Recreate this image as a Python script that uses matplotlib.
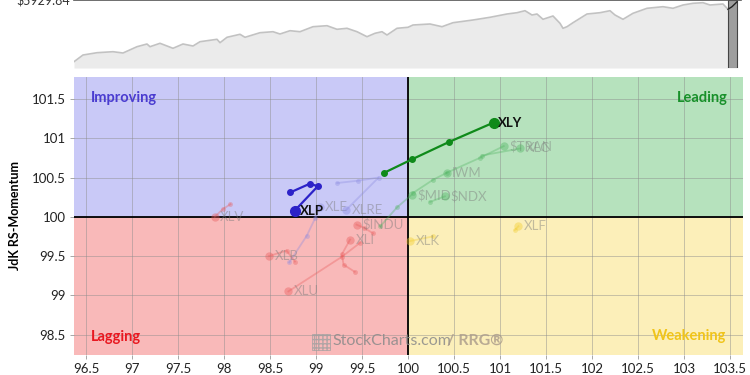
import numpy as np
import matplotlib
matplotlib.use("Agg")
import matplotlib.pyplot as plt
from matplotlib.patches import Rectangle

plt.rcParams['font.family'] = ['Lato', 'DejaVu Sans']

# benchmark strip on top ($SPX), bar index vs close
spx_bar = [0, 9, 23, 39, 49, 63, 73, 76, 86, 99, 109, 119, 126, 143, 146, 153,
           166, 171, 186, 199, 206, 216, 226, 239, 253, 263, 273, 283, 293, 301,
           308, 313, 323, 334, 339, 356, 368, 379, 399, 416, 433, 443, 451, 458,
           463, 469, 479, 486, 489, 493, 499, 513, 526, 536, 541, 549, 559, 573,
           589, 599, 609, 619, 629, 636, 649, 654, 658, 663]
spx_close = [4264, 4445, 4507, 4534, 4499, 4669, 4742, 4669, 4761, 4626, 4742,
             4688, 4804, 4869, 4777, 4923, 5004, 4923, 5047, 5074, 5012, 5101,
             5074, 5209, 5236, 5139, 5166, 5074, 4939, 5031, 5074, 4985, 5166,
             5193, 5255, 5282, 5209, 5317, 5390, 5463, 5552, 5587, 5641, 5525,
             5552, 5409, 5498, 5301, 5166, 5209, 5317, 5552, 5587, 5641, 5525,
             5409, 5571, 5706, 5749, 5706, 5795, 5841, 5857, 5795, 5822, 5679,
             5749, 5880]
spx_last = "$5929.84"

# RRG tails: JdK RS-Ratio (x) and RS-Momentum (y), oldest -> head
xlp_rs = [98.72, 98.93, 99.02, 98.77]
xlp_mom = [100.31, 100.42, 100.39, 100.08]
xly_rs = [99.74, 100.04, 100.44, 100.93]
xly_mom = [100.56, 100.73, 100.95, 101.20]

xlv_rs = [98.07, 97.99, 97.90]
xlv_mom = [100.16, 100.10, 100.00]
xle_rs = [98.71, 98.90, 98.99, 99.04]
xle_mom = [99.42, 99.76, 99.98, 100.12]
xlre_rs = [99.23, 99.46, 99.68, 99.33]
xlre_mom = [100.43, 100.46, 100.50, 100.09]
xlb_rs = [98.77, 98.68, 98.49]
xlb_mom = [99.43, 99.57, 99.50]
xlu_rs = [99.48, 99.28, 98.70]
xlu_mom = [99.67, 99.49, 99.05]
xli_rs = [99.42, 99.30, 99.28, 99.37]
xli_mom = [99.30, 99.39, 99.52, 99.71]
indu_rs = [99.62, 99.52, 99.44]
indu_mom = [99.79, 99.86, 99.90]
mid_rs = [99.70, 99.88, 100.04]
mid_mom = [99.88, 100.12, 100.28]
iwm_rs = [100.05, 100.27, 100.42]
iwm_mom = [100.30, 100.47, 100.56]
tran_rs = [100.42, 100.78, 101.04]
tran_mom = [100.56, 100.75, 100.90]
xlc_rs = [100.80, 101.22]
xlc_mom = [100.78, 100.87]
ndx_rs = [100.24, 100.40]
ndx_mom = [100.19, 100.26]
xlk_rs = [100.27, 100.02]
xlk_mom = [99.75, 99.69]
xlf_rs = [101.16, 101.20]
xlf_mom = [99.83, 99.88]

x_ticks = [96.5, 97, 97.5, 98, 98.5, 99, 99.5, 100, 100.5, 101, 101.5, 102,
           102.5, 103, 103.5]
x_labels = ["96.5", "97", "97.5", "98", "98.5", "99", "99.5", "100", "100.5",
            "101", "101.5", "102", "102.5", "103", "103.5"]
y_ticks = [98.5, 99, 99.5, 100, 100.5, 101, 101.5]
y_labels = ["98.5", "99", "99.5", "100", "100.5", "101", "101.5"]

# quadrant colours
c_improving = '#c9c9f7'
c_leading = '#b6e2bd'
c_lagging = '#f9b9b9'
c_weakening = '#fcefb9'

faded = {
    'lag': '#e85a5a',
    'imp': '#8a8ae0',
    'lead': '#4fb461',
    'weak': '#f2cc2a',
}

fig = plt.figure(figsize=(7.5, 3.75), dpi=100)
W, H = 750.0, 375.0

# ---- top benchmark strip
axt = fig.add_axes([74 / W, 1 - 68 / H, 667 / W, 68 / H])
axt.fill_between(spx_bar, spx_close, 4094, color='#ebebeb', lw=0)
axt.plot(spx_bar[:-2], spx_close[:-2], color='#c2c2c2', lw=1.2)
axt.axvspan(654, 663, facecolor='#9e9e9e', edgecolor='#444444', lw=0.8)
axt.plot(spx_bar[-3:], spx_close[-3:], color='#222222', lw=1.0)
axt.set_xlim(0, 667)
axt.set_ylim(4094, 5930)
for s in ['left', 'right', 'bottom']:
    axt.spines[s].set_visible(False)
axt.spines['top'].set_color('#555555')
axt.spines['top'].set_linewidth(1.2)
axt.set_xticks([])
axt.set_yticks([])
fig.text(70 / W, 1.0, spx_last, ha='right', va='center', fontsize=9,
         color='#333333')

# ---- RRG
ax = fig.add_axes([74 / W, 20 / H, 669 / W, 278 / H])
x0, x1 = 96.37, 103.64
y0, y1 = 98.24, 101.78
ax.set_xlim(x0, x1)
ax.set_ylim(y0, y1)
ax.add_patch(Rectangle((x0, 100), 100 - x0, y1 - 100, color=c_improving, zorder=0, lw=0))
ax.add_patch(Rectangle((100, 100), x1 - 100, y1 - 100, color=c_leading, zorder=0, lw=0))
ax.add_patch(Rectangle((x0, y0), 100 - x0, 100 - y0, color=c_lagging, zorder=0, lw=0))
ax.add_patch(Rectangle((100, y0), x1 - 100, 100 - y0, color=c_weakening, zorder=0, lw=0))

ax.set_xticks(x_ticks)
ax.set_xticklabels(x_labels)
ax.set_yticks(y_ticks)
ax.set_yticklabels(y_labels)
ax.tick_params(labelsize=9.5, colors='#222222', length=3, width=0.6,
               pad=3)
ax.tick_params(axis='both', color='#999999')
ax.grid(True, color='#8c8c8c', lw=0.6, alpha=0.55, zorder=1)
ax.set_axisbelow(True)
for s in ax.spines.values():
    s.set_visible(False)
ax.axhline(100, color='black', lw=1.3, zorder=2)
ax.axvline(100, color='black', lw=1.3, zorder=2)
ax.set_ylabel("JdK RS-Momentum", fontsize=9, fontweight='bold', labelpad=8)

# quadrant names
ax.text(96.55, 101.51, "Improving", color='#4a3cd0', fontsize=10.5,
        fontweight='bold', va='center', ha='left')
ax.text(103.47, 101.51, "Leading", color='#18902a', fontsize=10.5,
        fontweight='bold', va='center', ha='right')
ax.text(96.55, 98.47, "Lagging", color='#e81820', fontsize=10.5,
        fontweight='bold', va='center', ha='left')
ax.text(103.46, 98.48, "Weakening", color='#f0c419', fontsize=10.5,
        fontweight='bold', va='center', ha='right')

# watermark
ax.add_patch(Rectangle((98.96, 98.31), 0.19, 0.2, fill=False, hatch='++++',
                       edgecolor='#a0a0a0', lw=0.6, zorder=3, alpha=0.8))
ax.text(99.18, 98.42, "StockCharts.com", color='#8a8a8a', fontsize=11.5,
        va='center', ha='left', alpha=0.85, zorder=3)
ax.text(100.42, 98.42, "/ RRG\u00ae", color='#a8998a', fontsize=11.5,
        fontweight='bold', va='center', ha='left', alpha=0.8, zorder=3)

# faded tails
fade_tails = [
    ("XLV", xlv_rs, xlv_mom, 'lag'),
    ("XLE", xle_rs, xle_mom, 'imp'),
    ("XLRE", xlre_rs, xlre_mom, 'imp'),
    ("XLB", xlb_rs, xlb_mom, 'lag'),
    ("XLU", xlu_rs, xlu_mom, 'lag'),
    ("XLI", xli_rs, xli_mom, 'lag'),
    (r"\$INDU", indu_rs, indu_mom, 'lag'),
    (r"\$MID", mid_rs, mid_mom, 'lead'),
    ("IWM", iwm_rs, iwm_mom, 'lead'),
    (r"\$TRAN", tran_rs, tran_mom, 'lead'),
    ("XLC", xlc_rs, xlc_mom, 'lead'),
    (r"\$NDX", ndx_rs, ndx_mom, 'lead'),
    ("XLK", xlk_rs, xlk_mom, 'weak'),
    ("XLF", xlf_rs, xlf_mom, 'weak'),
]
for name, rs, mom, q in fade_tails:
    col = faded[q]
    ax.plot(rs, mom, color=col, lw=1.3, alpha=0.35, zorder=4)
    ax.plot(rs[:-1], mom[:-1], 'o', color=col, ms=3.5, alpha=0.35, zorder=4,
            mec='none')
    ax.plot(rs[-1], mom[-1], 'o', color=col, ms=6, alpha=0.4, zorder=4,
            mec='none')
    ax.annotate(name, (rs[-1], mom[-1]), xytext=(4, 0),
                textcoords='offset points', va='center', ha='left',
                fontsize=9.5, color='#7a7a7a', alpha=0.45, zorder=4)

# highlighted tails
for name, rs, mom, col in [("XLP", xlp_rs, xlp_mom, '#2c22c8'),
                           ("XLY", xly_rs, xly_mom, '#0f8a1a')]:
    ax.plot(rs, mom, color=col, lw=1.6, zorder=6)
    ax.plot(rs[:-1], mom[:-1], 'o', color=col, ms=4, zorder=6)
    ax.plot(rs[-1], mom[-1], 'o', color=col, ms=7, zorder=6)
    ax.annotate(name, (rs[-1], mom[-1]), xytext=(3.5, -0.5),
                textcoords='offset points', va='center', ha='left',
                fontsize=9.5, fontweight='bold', color='#111111', zorder=7)

fig.savefig("out.png", dpi=100)
